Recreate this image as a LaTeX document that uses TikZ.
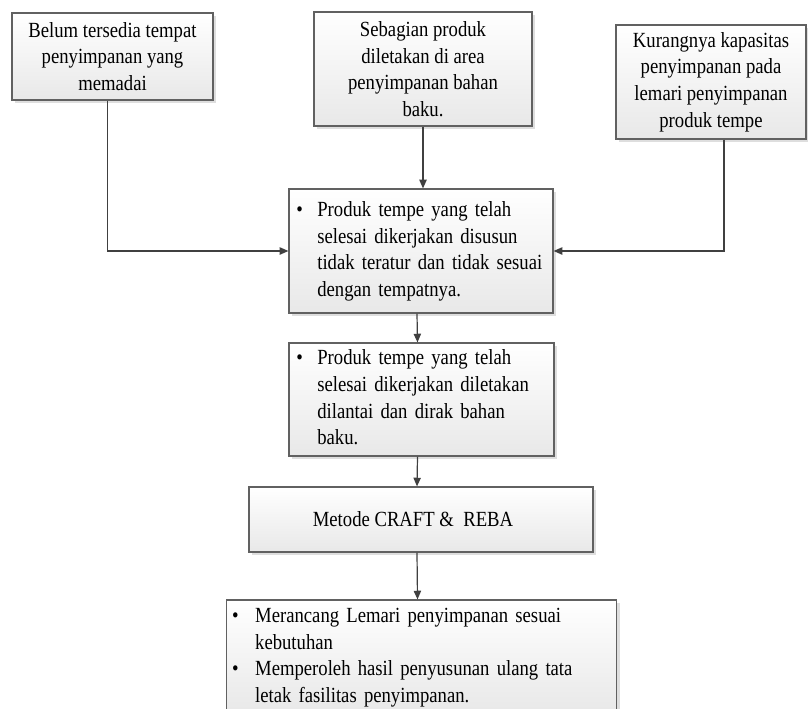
\documentclass[tikz,border=0pt]{standalone}
\usepackage{fontspec}
\setmainfont{Liberation Serif}[FakeStretch=0.865]
\usetikzlibrary{arrows.meta,shadows}
\newcommand{\bul}[1]{\makebox[#1][l]{\textbullet}}
\begin{document}
\begin{tikzpicture}[x=0.75pt,y=-0.75pt,
  box/.style={draw=black!62, line width=0.9pt, top color=white, bottom color=black!9,
    drop shadow={shadow xshift=2.2pt, shadow yshift=-2.2pt, fill=black!13, opacity=1},
    inner sep=0pt, font=\fontsize{16.2pt}{20pt}\selectfont},
  listbox/.style={box, inner xsep=5.5pt, align=left},
  arr/.style={draw=black!75, line width=0.9pt, -{Triangle[length=6.5pt,width=5.5pt]}}
]
\useasboundingbox (0,0) rectangle (808,708);
\clip (0,0) rectangle (808,708);

\node[box, minimum width=150.75pt, minimum height=65.25pt, align=center] (b1) at (112.5,56.5)
  {Belum tersedia tempat\\penyimpanan yang\\memadai};
\node[box, minimum width=163.5pt, minimum height=85.5pt, align=center] (b2) at (423,69)
  {Sebagian produk\\diletakan di area\\penyimpanan bahan\\baku.};
\node[box, minimum width=142.5pt, minimum height=85.5pt, align=center] (b3) at (711,82)
  {Kurangnya kapasitas\\penyimpanan pada\\lemari penyimpanan\\produk tempe};

\node[listbox, text width=187pt, minimum height=93pt] (m1) at (421,251)
  {\noindent\begin{tabular}{@{}l@{}l@{}}\bul{15.75pt}&Produk tempe yang telah\\&selesai dikerjakan disusun\\&tidak teratur dan tidak sesuai\\&dengan tempatnya.\end{tabular}};
\node[listbox, text width=187.75pt, minimum height=84.75pt] (m2) at (421.5,399.5)
  {\noindent\begin{tabular}{@{}l@{}l@{}}\bul{15.75pt}&Produk tempe yang telah\\&selesai dikerjakan diletakan\\&dilantai dan dirak bahan\\&baku.\end{tabular}};

\node[box, minimum width=258pt, minimum height=48.75pt, align=center] (m3) at (421,519.5)
  {Metode CRAFT \& \ REBA\hspace*{12pt}};

\node[listbox, inner xsep=4.5pt, text width=284pt, minimum height=85.5pt] (m4) at (421.5,657)
  {\noindent\begin{tabular}{@{}l@{}l@{}}\bul{17.25pt}&Merancang Lemari penyimpanan sesuai\\&kebutuhan\\\bul{17.25pt}&Memperoleh hasil penyusunan ulang tata\\&letak fasilitas penyimpanan.\end{tabular}};

\draw[arr] ([xshift=-4pt]b1.south) |- (m1.west);
\draw[arr] (b2.south) -- (b2.south |- m1.north);
\draw[arr] ([xshift=9.75pt]b3.south) |- (m1.east);
\draw[arr] ([xshift=-3pt]m1.south) -- ([xshift=-3pt]m2.north);
\draw[arr] ([xshift=-3pt]m2.south) -- ([xshift=-3pt]m3.north);
\draw[arr] ([xshift=-3pt]m3.south) -- ([xshift=-3pt]m4.north);
\end{tikzpicture}
\end{document}
